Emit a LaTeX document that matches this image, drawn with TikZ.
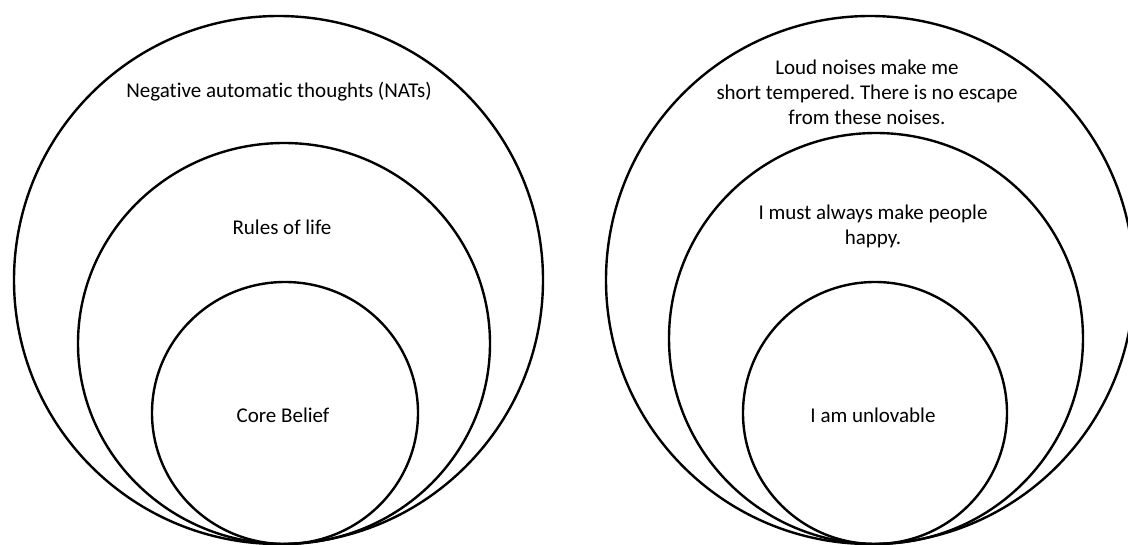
\documentclass[tikz,border=0pt]{standalone}
\usepackage{fontspec}
\setmainfont[Ligatures=CommonOff]{Carlito}
\begin{document}
\frenchspacing
\begin{tikzpicture}[x=1pt,y=-1pt,
  ring/.style={draw=black,line width=2.4pt},
  lbl/.style={font=\fontsize{21}{25}\selectfont,align=center,inner sep=0pt,text=black}]
\useasboundingbox[fill=white] (0,0) rectangle (1128,545);
% left set
\draw[ring] (278.5,280) ellipse [x radius=264.5pt, y radius=264pt];
\draw[ring] (284,343.5) ellipse [x radius=206pt, y radius=200.5pt];
\draw[ring] (285,413) ellipse [x radius=133pt, y radius=131pt];
% right set
\draw[ring] (870,280) ellipse [x radius=264pt, y radius=264pt];
\draw[ring] (876,338.5) ellipse [x radius=207pt, y radius=205.5pt];
\draw[ring] (875,413) ellipse [x radius=132pt, y radius=131pt];
% labels
\node[lbl] (nat) at (279,92) {Negative automatic thoughts (NATs)};
\node[lbl] (rules) at (282,227) {Rules of life};
\node[lbl] (core) at (283,415) {Core Belief};
\node[lbl] (loud) at (867,92) {Loud noises make me\\short tempered. There is no escape\\from these noises.};
\node[lbl] (must) at (873,226) {I must always make people\\happy.};
\node[lbl] (unlov) at (873,415) {I am unlovable};
\end{tikzpicture}
\end{document}
